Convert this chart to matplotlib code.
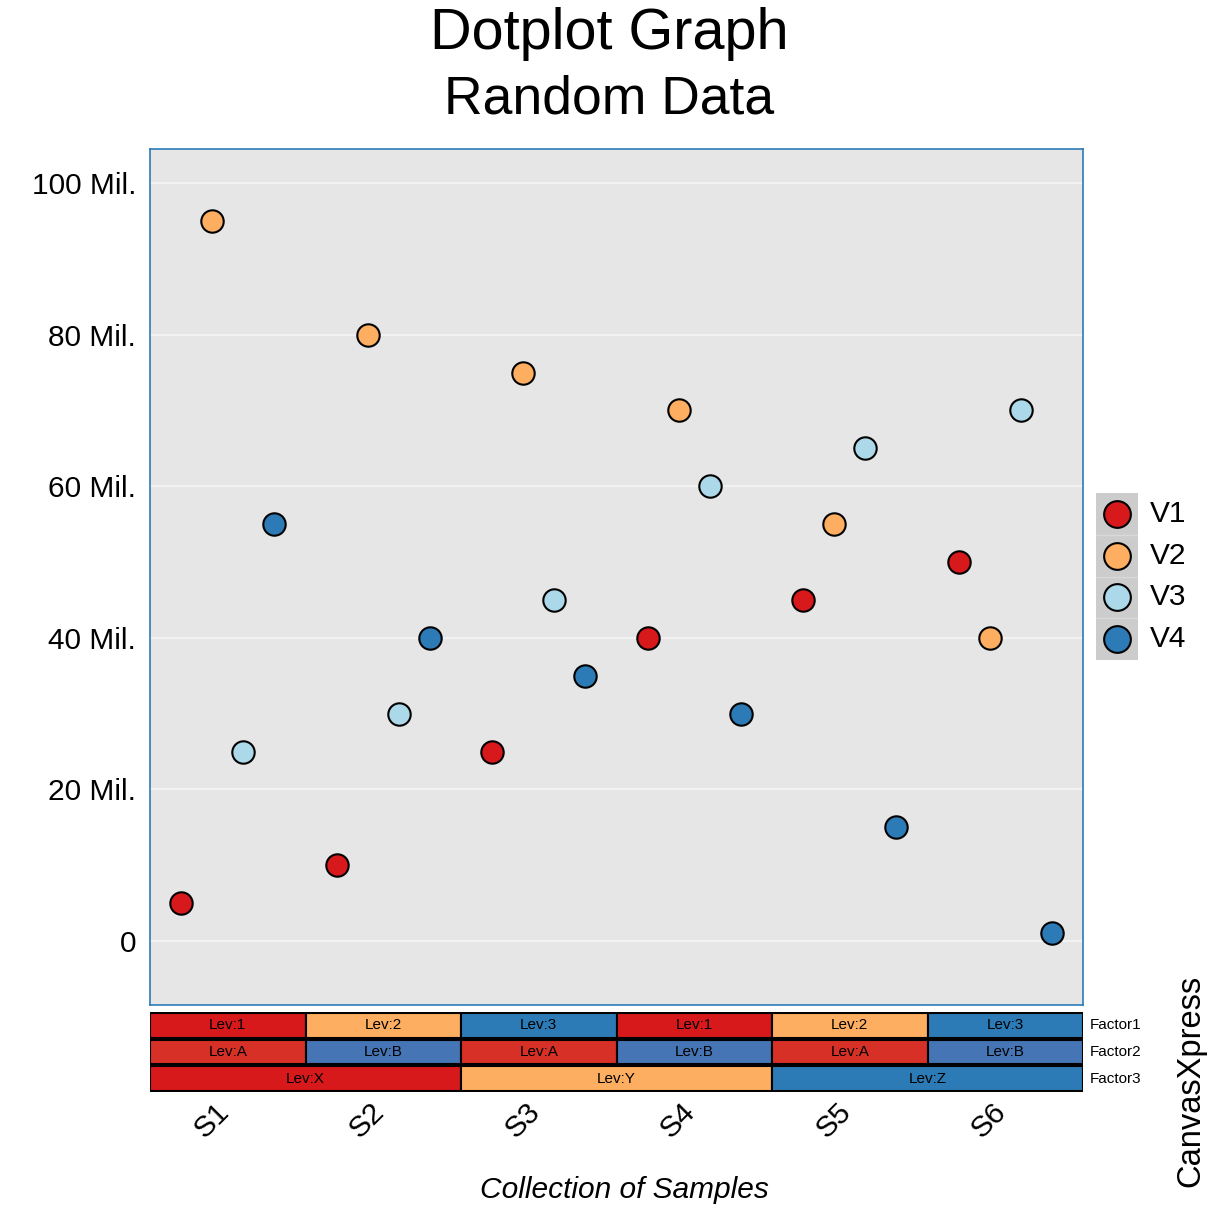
import matplotlib
matplotlib.use("Agg")
import matplotlib.pyplot as plt
from matplotlib.patches import Rectangle
from matplotlib import font_manager

plt.rcParams['font.family'] = ['Liberation Sans', 'DejaVu Sans']
names = {f.name for f in font_manager.fontManager.ttflist}
narrow = 'Liberation Sans Narrow' if 'Liberation Sans Narrow' in names else 'Liberation Sans'

samples = ["S1", "S2", "S3", "S4", "S5", "S6"]
series = ["V1", "V2", "V3", "V4"]
colors = ["#D7191C", "#FDAE61", "#ABD9E9", "#2C7BB6"]

v1 = [5, 10, 25, 40, 45, 50]
v2 = [95, 80, 75, 70, 55, 40]
v3 = [25, 30, 45, 60, 65, 70]
v4 = [55, 40, 35, 30, 15, 1]
values = [v1, v2, v3, v4]

factor1 = ["Lev:1", "Lev:2", "Lev:3", "Lev:1", "Lev:2", "Lev:3"]
factor2 = ["Lev:A", "Lev:B", "Lev:A", "Lev:B", "Lev:A", "Lev:B"]
factor3 = ["Lev:X", "Lev:X", "Lev:Y", "Lev:Y", "Lev:Z", "Lev:Z"]
factor_names = ["Factor1", "Factor2", "Factor3"]
factor_colors = {
    "Lev:1": "#D7191C", "Lev:2": "#FDAE61", "Lev:3": "#2C7BB6",
    "Lev:A": "#D73027", "Lev:B": "#4575B4",
    "Lev:X": "#D7191C", "Lev:Y": "#FDAE61", "Lev:Z": "#2C7BB6",
}

W = H = 1218
fig = plt.figure(figsize=(12.18, 12.18), dpi=100)

def px_axes(x0, y0, x1, y1):
    return fig.add_axes([x0 / W, 1 - y1 / H, (x1 - x0) / W, (y1 - y0) / H])

ax = px_axes(150, 149, 1083, 1005)
ax.set_facecolor("#E6E6E6")
offsets = [-0.3, -0.1, 0.1, 0.3]
for k in range(len(series)):
    xs = [i + offsets[k] for i in range(len(samples))]
    ax.scatter(xs, values[k], s=260, c=colors[k], edgecolors="black",
               linewidths=1.5, zorder=3)
ax.set_xlim(-0.5, 5.5)
ax.set_ylim(-8.44, 104.5)
ax.set_yticks([0, 20, 40, 60, 80, 100])
ax.set_yticklabels(["0", "20 Mil.", "40 Mil.", "60 Mil.", "80 Mil.", "100 Mil."], fontsize=21.5)
ax.tick_params(axis="y", length=0, pad=10)
ax.set_xticks([])
ax.grid(axis="y", color="#F5F5F5", linewidth=1.2)
ax.set_axisbelow(True)
for sp in ax.spines.values():
    sp.set_color("#2C7BB6")
    sp.set_linewidth(1.2)

# legend (grey strip behind the markers only)
lax = px_axes(1096, 493, 1138, 660)
lax.set_xlim(0, 1)
lax.set_ylim(len(series), 0)
lax.set_facecolor("#CCCCCC")
lax.set_xticks([])
lax.set_yticks([])
for sp in lax.spines.values():
    sp.set_visible(False)
for k in range(len(series)):
    lax.scatter([0.5], [k + 0.5], s=370, c=colors[k], edgecolors="black",
                linewidths=1.5, zorder=3, clip_on=False)
    if k > 0:
        lax.axhline(k, color="#D9D9D9", linewidth=1)
    fig.text(1150 / W, 1 - (493 + (k + 0.5) * 167 / 4) / H, series[k],
             ha="left", va="center", fontsize=21.5)

# factor bars
fax = px_axes(150, 1012, 1083, 1092)
fax.set_xlim(-0.5, 5.5)
fax.set_ylim(3, 0)
fax.axis("off")
for r, fac in enumerate([factor1, factor2, factor3]):
    i = 0
    while i < len(fac):
        j = i
        while j + 1 < len(fac) and fac[j + 1] == fac[i]:
            j += 1
        fax.add_patch(Rectangle((i - 0.5, r + 0.04), j - i + 1, 0.92,
                                facecolor=factor_colors[fac[i]], edgecolor="black",
                                linewidth=1.5))
        fax.text((i + j) / 2, r + 0.5, fac[i], ha="center", va="center",
                 fontsize=11, family=[narrow, 'DejaVu Sans'])
        i = j + 1
    fax.text(5.545, r + 0.5, factor_names[r], ha="left", va="center",
             fontsize=11, family=[narrow, 'DejaVu Sans'])

for i, s in enumerate(samples):
    fig.text((150 + (i + 0.5) * 155.5 - 16) / W, 1 - 1120 / H, s, rotation=45,
             ha="center", va="center", fontsize=21.5)

fig.text(0.5, 1 - 49 / H, "Dotplot Graph", ha="center", va="baseline", fontsize=41.5)
fig.text(0.5, 1 - 113 / H, "Random Data", ha="center", va="baseline", fontsize=38.5)
fig.text(624 / W, 1 - 1190 / H, "Collection of Samples", ha="center", va="center",
         fontsize=21.5, style="italic")
fig.text(1191 / W, 1 - 1081 / H, "CanvasXpress", ha="center", va="center",
         fontsize=23.5, rotation=90)

fig.savefig("out.png", dpi=100)
